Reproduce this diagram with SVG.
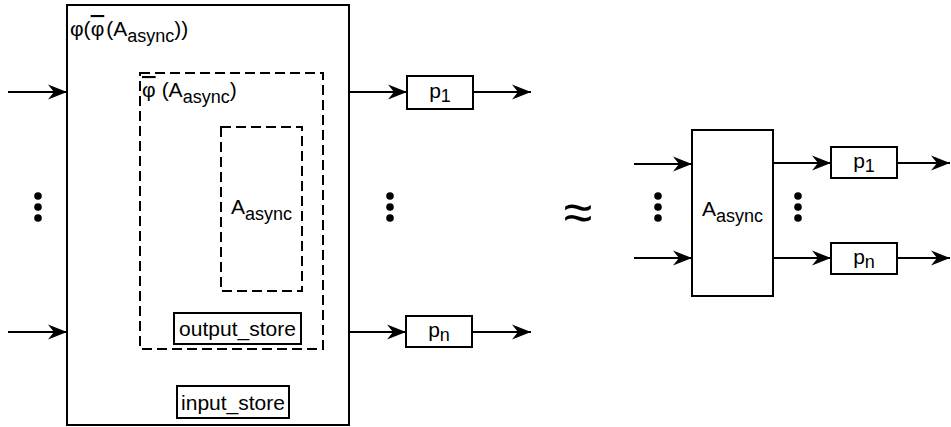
<svg xmlns="http://www.w3.org/2000/svg" width="951" height="427" viewBox="0 0 951 427">
<defs>
<style>
.box{fill:#fff;stroke:#000;stroke-width:2}
.dash{fill:none;stroke:#000;stroke-width:2;stroke-dasharray:10 5}
.t{font-family:"Liberation Sans",Arial,sans-serif;font-size:21px;fill:#000}
.s{font-size:18px}
.c{stroke:#000;stroke-width:2;fill:none;marker-end:url(#ah)}
.dot{fill:#000}
</style>
<marker id="ah" markerUnits="userSpaceOnUse" markerWidth="19" markerHeight="16" viewBox="0 0 19 16" refX="19" refY="8" orient="auto">
<path d="M19,8 L0,0.5 L6,8 L0,15.5 Z" fill="#000"/>
</marker>
</defs>
<rect width="951" height="427" fill="#fff"/>

<g id="outer">
<rect class="box" x="67" y="5" width="282" height="420"/>
<text class="t" x="70" y="36">φ(<tspan text-decoration="overline">φ</tspan><tspan dx="2">(A</tspan><tspan class="s" dy="6">async</tspan><tspan dy="-6">))</tspan></text>
</g>
<g id="phibar">
<rect class="dash" x="140" y="73" width="183" height="276"/>
<text class="t" x="142" y="97"><tspan text-decoration="overline">φ</tspan><tspan dx="6">(A</tspan><tspan class="s" dy="6">async</tspan><tspan dy="-6">)</tspan></text>
</g>
<g id="async_inner">
<rect class="dash" x="221" y="127" width="81" height="164"/>
<text class="t" x="261.5" y="214" text-anchor="middle">A<tspan class="s" dy="6">async</tspan></text>
</g>
<g id="output_store">
<rect class="box" x="174" y="313" width="127" height="31"/>
<text class="t" x="237.5" y="336" text-anchor="middle">output_store</text>
</g>
<g id="input_store">
<rect class="box" x="177" y="386" width="112" height="32"/>
<text class="t" x="233" y="410" text-anchor="middle">input_store</text>
</g>
<g id="p1_left">
<rect class="box" x="407" y="76" width="66" height="33"/>
<text class="t" x="440" y="98" text-anchor="middle">p<tspan class="s" dy="4">1</tspan></text>
</g>
<g id="pn_left">
<rect class="box" x="406" y="316" width="66" height="31"/>
<text class="t" x="439" y="337" text-anchor="middle">p<tspan class="s" dy="4">n</tspan></text>
</g>
<g id="async_right">
<rect class="box" x="692" y="130" width="81" height="166"/>
<text class="t" x="732.5" y="216" text-anchor="middle">A<tspan class="s" dy="6">async</tspan></text>
</g>
<g id="p1_right">
<rect class="box" x="831" y="147" width="66" height="31"/>
<text class="t" x="864" y="168" text-anchor="middle">p<tspan class="s" dy="4">1</tspan></text>
</g>
<g id="pn_right">
<rect class="box" x="831" y="243" width="66" height="31"/>
<text class="t" x="864" y="264" text-anchor="middle">p<tspan class="s" dy="4">n</tspan></text>
</g>

<g id="connectors">
<line class="c" x1="8" y1="92" x2="67" y2="92"/>
<line class="c" x1="8" y1="332" x2="67" y2="332"/>
<line class="c" x1="349" y1="92" x2="407" y2="92"/>
<line class="c" x1="473" y1="92" x2="531" y2="92"/>
<line class="c" x1="349" y1="332" x2="406" y2="332"/>
<line class="c" x1="472" y1="332" x2="531" y2="332"/>
<line class="c" x1="634" y1="164" x2="692" y2="164"/>
<line class="c" x1="634" y1="258" x2="692" y2="258"/>
<line class="c" x1="773" y1="163" x2="831" y2="163"/>
<line class="c" x1="897" y1="163" x2="950" y2="163"/>
<line class="c" x1="773" y1="258" x2="831" y2="258"/>
<line class="c" x1="897" y1="258" x2="950" y2="258"/>
</g>

<g id="dots">
<circle class="dot" cx="38" cy="196" r="3.8"/><circle class="dot" cx="38" cy="207" r="3.8"/><circle class="dot" cx="38" cy="218" r="3.8"/>
<circle class="dot" cx="390" cy="196" r="3.8"/><circle class="dot" cx="390" cy="207" r="3.8"/><circle class="dot" cx="390" cy="218" r="3.8"/>
<circle class="dot" cx="658" cy="196" r="3.8"/><circle class="dot" cx="658" cy="207" r="3.8"/><circle class="dot" cx="658" cy="218" r="3.8"/>
<circle class="dot" cx="798" cy="196" r="3.8"/><circle class="dot" cx="798" cy="207" r="3.8"/><circle class="dot" cx="798" cy="218" r="3.8"/>
</g>
<text id="approx" class="t" x="578" y="230" text-anchor="middle" style="font-size:52px">≈</text>
</svg>
